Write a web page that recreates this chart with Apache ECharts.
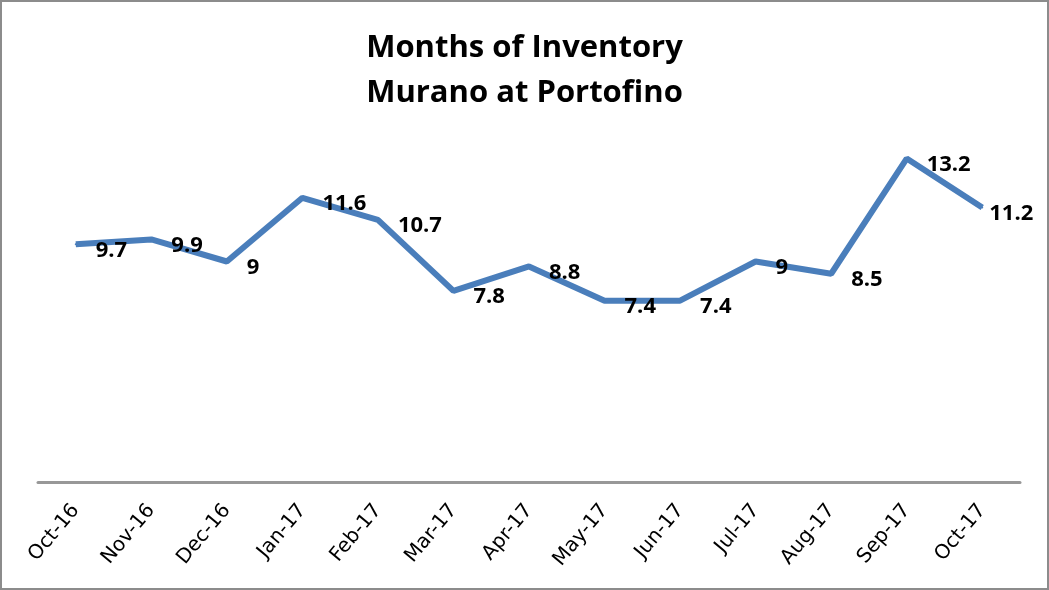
<!DOCTYPE html>
<html>
<head>
<meta charset="utf-8">
<script src="https://cdn.jsdelivr.net/npm/echarts@6/dist/echarts.min.js"></script>
<style>
  html, body { margin: 0; padding: 0; background: #fff; }
  #main { width: 1049px; height: 590px; box-sizing: border-box; border: 2px solid #8c8c8c; }
</style>
</head>
<body>
<div id="main"></div>
<script>
// month labels
const months = ['Oct-16', 'Nov-16', 'Dec-16', 'Jan-17', 'Feb-17', 'Mar-17', 'Apr-17',
  'May-17', 'Jun-17', 'Jul-17', 'Aug-17', 'Sep-17', 'Oct-17'];
// months of inventory
const inventory = [9.7, 9.9, 9, 11.6, 10.7, 7.8, 8.8, 7.4, 7.4, 9, 8.5, 13.2, 11.2];

const chart = echarts.init(document.getElementById('main'));

// last label sits closer to the line so it stays inside the frame
const seriesData = inventory.map((v, i) => {
  if (i === inventory.length - 1) {
    return { value: v, label: { distance: 6 } };
  }
  return v;
});

const option = {
  backgroundColor: '#fff',
  animation: false,
  title: {
    text: 'Months of Inventory\nMurano at Portofino',
    left: 'center',
    top: 19,
    textStyle: {
      fontFamily: 'Open Sans',
      fontWeight: 'bold',
      fontSize: 31,
      lineHeight: 45,
      color: '#000'
    }
  },
  grid: {
    left: 36,
    right: 27,
    top: 137,
    bottom: 106
  },
  xAxis: {
    type: 'category',
    data: months,
    boundaryGap: true,
    axisLine: { lineStyle: { color: '#989898', width: 3 } },
    axisTick: { show: false },
    axisLabel: {
      rotate: 50,
      interval: 0,
      margin: 25,
      fontFamily: 'DejaVu Sans',
      fontSize: 20,
      color: '#000'
    }
  },
  yAxis: {
    type: 'value',
    min: 0,
    max: 14,
    interval: 2,
    show: false
  },
  series: [{
    type: 'line',
    data: seriesData,
    symbol: 'circle',
    symbolSize: 2,
    showSymbol: true,
    itemStyle: { color: '#4a7ebb' },
    lineStyle: { color: '#4a7ebb', width: 6 },
    label: {
      show: true,
      position: 'right',
      offset: [0, 6],
      distance: 19,
      fontFamily: 'Open Sans',
      fontWeight: 'bold',
      fontSize: 22,
      color: '#000'
    }
  }]
};

chart.setOption(option);
</script>
</body>
</html>
